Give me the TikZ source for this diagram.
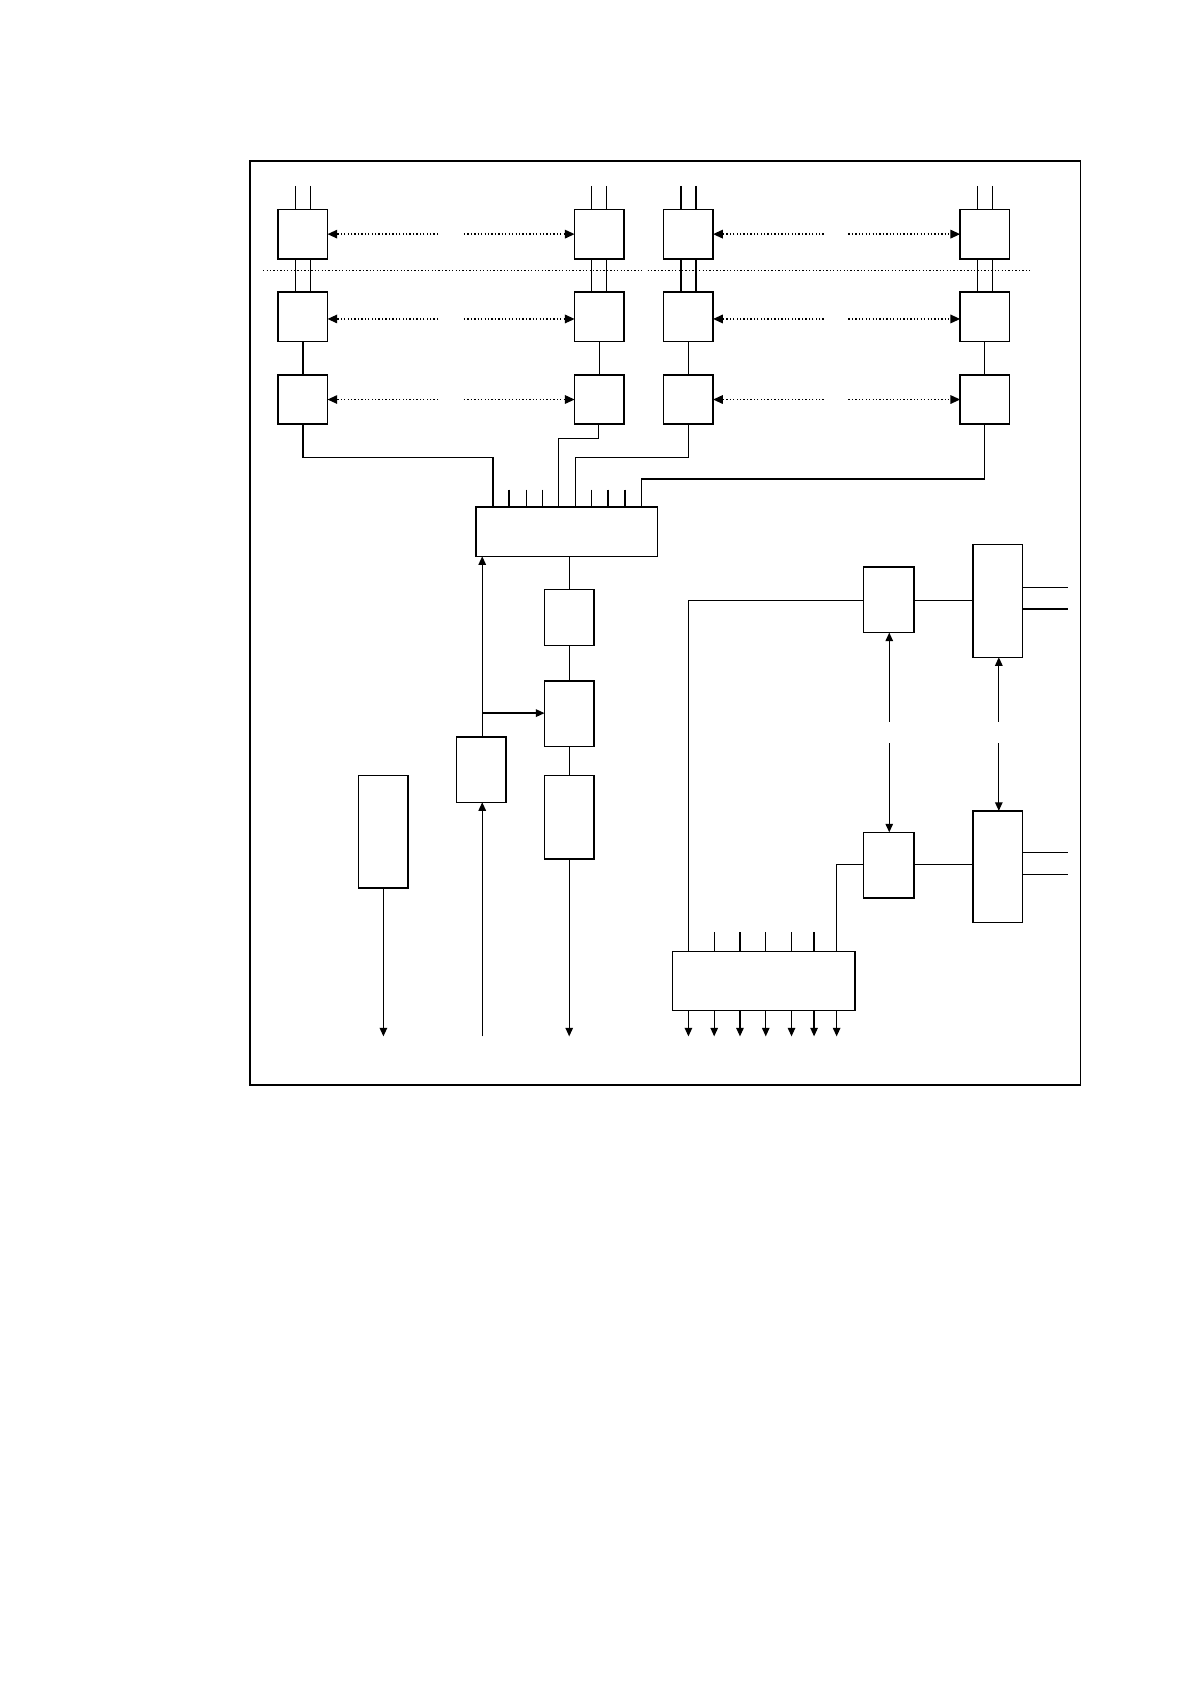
\documentclass[tikz,border=0pt]{standalone}
\usetikzlibrary{arrows.meta}
\begin{document}
\begin{tikzpicture}[x=1pt,y=-1pt,line width=1.2pt,
  bx/.style={draw,line width=1.4pt},
  arr/.style={-{Triangle[length=8pt,width=7pt]}},
  dots/.style={dotted,line width=1.2pt,-{Triangle[length=9pt,width=8pt]}}]
\useasboundingbox (0,0) rectangle (1109,1568);
\draw[line width=1.5pt] (233,150) rectangle (1006,1010);
% top boxes
\foreach \c/\nm in {259/a,535/b,618/c,894/d}{
  \foreach \r/\y in {1/195,2/272,3/349}{
    \draw[bx] (\c,\y) rectangle ++(46,46) coordinate (\nm\r);
  }
  \draw (\c+16,173) -- (\c+16,195) (\c+30,173) -- (\c+30,195);
  \draw (\c+16,241) -- (\c+16,272) (\c+30,241) -- (\c+30,272);
  \draw (\c+23,318) -- (\c+23,349);
}
\foreach \y in {218,297,372}{
  \draw[dots] (408,\y) -- (305,\y);
  \draw[dots] (432,\y) -- (535,\y);
  \draw[dots] (767,\y) -- (664,\y);
  \draw[dots] (790,\y) -- (894,\y);
}
\draw[dotted] (245,252) -- (598,252) (603,252) -- (960,252);
% to mux
\draw[bx] (443,472) rectangle (612,518);
\draw (282,395) -- (282,426) -- (459,426) -- (459,472);
\draw (557,395) -- (557,408) -- (520,408) -- (520,472);
\draw (641,395) -- (641,426) -- (536,426) -- (536,472);
\draw (917,395) -- (917,446) -- (597,446) -- (597,472);
\foreach \x in {474,490,505,551,566,582}{\draw (\x,456) -- (\x,472);}
% center column
\draw (530,518) -- (530,549);
\draw[bx] (507,549) rectangle (553,601);
\draw (530,601) -- (530,634);
\draw[bx] (507,634) rectangle (553,695);
\draw (530,695) -- (530,722);
\draw[bx] (507,722) rectangle (553,800);
\draw[arr] (530,800) -- (530,965);
\draw[bx] (425,686) rectangle (471,747);
\draw[arr] (449,965) -- (449,747);
\draw[arr] (449,686) -- (449,518);
\draw[arr] (449,664) -- (507,664);
\draw[bx] (334,722) rectangle (380,827);
\draw[arr] (357,827) -- (357,965);
% right part
\draw[bx] (804,528) rectangle (851,589);
\draw[bx] (906,507) rectangle (952,612);
\draw (851,559) -- (906,559);
\draw (952,547) -- (994,547) (952,567) -- (994,567);
\draw[bx] (804,775) rectangle (851,836);
\draw[bx] (906,755) rectangle (952,859);
\draw (851,805) -- (906,805);
\draw (952,794) -- (994,794) (952,814) -- (994,814);
\draw[arr] (828,672) -- (828,589);
\draw[arr] (828,692) -- (828,775);
\draw[arr] (930,672) -- (930,612);
\draw[arr] (930,692) -- (930,755);
\draw[bx] (626,886) rectangle (796,941);
\draw (804,559) -- (641,559) -- (641,886);
\draw (779,886) -- (779,805) -- (804,805);
\foreach \x in {665,689,713,737,758}{\draw (\x,868) -- (\x,886);}
\foreach \x in {641,665,689,713,737,758,779}{\draw[arr] (\x,941) -- (\x,965);}
\end{tikzpicture}
\end{document}
